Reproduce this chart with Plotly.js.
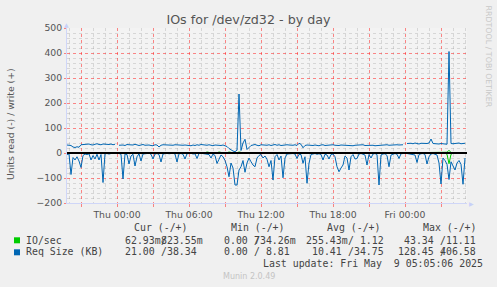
<!DOCTYPE html>
<html><head><meta charset="utf-8">
<script src="https://cdn.plot.ly/plotly-3.0.1.min.js"></script>
<style>html,body{margin:0;padding:0;background:#f0f0f0}#chart{width:497px;height:287px}</style>
</head><body><div id="chart"></div>
<script>
// ---- data ----
const startTime = Date.UTC(2025, 4, 7, 19, 50); // first sample, Wed 19:50
const stepMinutes = 10;

// Req Size (KB), write (+)
const reqWriteKB = [
 32,31,30,24,22,25,23,33,34,33,
 35,36,33,32,35,37,34,33,36,35,
 32,34,36,33,35,null,31,33,32,30,
 34,33,31,32,35,33,30,32,34,31,
 33,32,30,29,33,32,24,31,33,32,
 34,33,32,31,33,32,34,33,31,32,
 30,31,29,32,30,33,31,34,32,30,
 31,33,30,29,32,31,28,30,32,28,
 26,18,12,8,5,12,236,10,40,55,
 14,22,30,32,34,31,29,33,32,30,
 31,33,30,32,34,31,33,30,32,31,
 33,32,30,31,33,30,39,35,21,30,
 32,31,33,30,32,31,29,32,33,30,
 31,32,30,33,31,29,30,32,31,30,
 32,31,30,29,31,32,30,31,33,30,
 31,30,32,31,29,30,31,32,30,31,
 33,31,32,30,31,33,32,34,33,null,
 38,40,39,37,40,38,36,39,38,37,
 38,40,56,38,37,39,36,38,37,39,
 35,406,38,37,39,38,40,37,38,39
];
// Req Size (KB), read (-)
const reqReadKB = [
 6,4,86,18,28,15,32,58,10,4,
 6,3,28,10,24,5,28,6,118,3,
 2,4,2,1,2,null,2,5,104,4,
 6,44,12,5,52,15,3,32,4,2,
 3,1,5,24,4,2,6,36,4,2,
 1,3,2,1,4,36,3,2,5,24,
 3,2,1,4,3,22,2,1,3,2,
 4,6,20,4,10,42,25,8,15,30,
 55,95,40,60,128,128,68,55,30,77,
 40,20,35,48,55,20,10,6,20,12,
 25,55,30,108,15,6,28,12,99,20,
 4,3,5,2,4,22,5,6,41,15,
 121,41,6,4,2,5,3,6,28,5,
 8,24,6,4,15,55,75,60,48,12,
 20,68,15,6,24,22,4,2,5,8,
 48,6,20,4,2,6,128,8,4,3,
 10,55,8,4,2,5,22,3,2,null,
 2,4,3,5,8,38,6,3,2,6,
 44,15,4,2,5,8,40,124,20,30,
 45,106,35,50,68,40,30,45,125,20
];
// IO/sec, write (+)
const ioWrite = [
 .8,.8,.8,.8,.8,.8,.8,.8,.8,.8,
 .8,.8,.8,.8,.8,.8,.8,.8,.8,.8,
 .8,.8,.8,.8,.8,null,.8,.8,.8,.8,
 .8,.8,.8,.8,.8,.8,.8,.8,.8,.8,
 .8,.8,.8,.8,.8,.8,.8,.8,.8,.8,
 .8,.8,.8,.8,.8,.8,.8,.8,.8,.8,
 .8,.8,.8,.8,.8,.8,.8,.8,.8,.8,
 4,.8,.8,.8,.8,.8,4,.8,.8,.8,
 .8,4,.8,.8,.8,.8,4,.8,.8,.8,
 .8,.8,.8,.8,.8,.8,.8,.8,.8,.8,
 .8,.8,.8,.8,.8,.8,.8,.8,.8,.8,
 .8,.8,.8,.8,.8,.8,.8,.8,.8,.8,
 .8,.8,.8,.8,.8,.8,.8,.8,.8,.8,
 .8,.8,.8,.8,.8,.8,.8,.8,.8,.8,
 .8,.8,.8,.8,.8,.8,.8,.8,.8,.8,
 .8,.8,.8,.8,.8,.8,.8,.8,.8,.8,
 .8,.8,.8,.8,.8,.8,.8,.8,.8,null,
 .8,.8,.8,.8,.8,.8,.8,.8,.8,.8,
 .8,.8,.8,.8,.8,.8,.8,.8,.8,.8,
 3,11,2,.8,.8,.8,.8,.8,.8,.8
];
// IO/sec, read (-)
const ioRead = [
 .2,.2,.2,.2,.2,.2,.2,.2,.2,.2,
 .2,.2,.2,.2,.2,.2,.2,.2,.2,.2,
 .2,.2,.2,.2,.2,null,.2,.2,.2,.2,
 .2,.2,.2,.2,.2,.2,.2,.2,.2,.2,
 .2,.2,.2,.2,.2,.2,.2,.2,.2,.2,
 .2,.2,.2,.2,.2,.2,.2,.2,.2,.2,
 .2,.2,.2,.2,.2,.2,.2,.2,.2,.2,
 .2,.2,.2,.2,.2,.2,.2,.2,.2,.2,
 .2,.2,.2,.2,.2,.2,.2,.2,.2,.2,
 .2,.2,.2,.2,.2,.2,.2,.2,.2,.2,
 .2,.2,.2,.2,.2,.2,.2,.2,.2,.2,
 .2,.2,.2,.2,.2,.2,.2,.2,.2,.2,
 .2,.2,.2,.2,.2,.2,.2,.2,.2,.2,
 .2,.2,.2,.2,.2,.2,.2,.2,.2,.2,
 .2,.2,.2,.2,.2,.2,.2,.2,.2,.2,
 .2,.2,.2,.2,.2,.2,.2,.2,.2,.2,
 .2,.2,.2,.2,.2,.2,.2,.2,.2,null,
 .2,.2,.2,.2,.2,.2,.2,.2,.2,.2,
 .2,.2,.2,.2,.2,.2,.2,.2,.2,.2,
 5,43,5,.2,.2,.2,.2,.2,.2,.2
];

const seriesNames = ['IO/sec', 'Req Size (KB)'];
const seriesColors = ['#00cc00', '#0066b3'];
const statHeaders = ['Cur (-/+)', 'Min (-/+)', 'Avg (-/+)', 'Max (-/+)'];
const ioStatRead   = ['62.93m', '0.00 ', '255.43m', '43.34 '];
const ioStatWrite  = ['823.55m', '734.26m', '  1.12', ' 11.11'];
const reqStatRead  = ['21.00 ', '0.00 ', '10.41 ', '128.45 '];
const reqStatWrite = [' 38.34', '  8.81', ' 34.75', '406.58'];
const lastUpdate = 'Last update: Fri May  9 05:05:06 2025';

// ---- helpers ----
function fmt(ms){
  const d = new Date(ms), p = n => String(n).padStart(2,'0');
  return d.getUTCFullYear()+'-'+p(d.getUTCMonth()+1)+'-'+p(d.getUTCDate())+' '+p(d.getUTCHours())+':'+p(d.getUTCMinutes())+':00';
}
const times = reqWriteKB.map((_, i) => fmt(startTime + i*stepMinutes*60000));
const neg = a => a.map(v => v == null ? null : -v);
const endTime = startTime + 200*stepMinutes*60000;

// hourly minor grid positions that are not on the 3-hour major grid
const HOUR = 3600000;
const minorHours = [];
for (let t = Date.UTC(2025, 4, 7, 20); t < endTime; t += HOUR) {
  if (new Date(t).getUTCHours() % 3 !== 0) minorHours.push(fmt(t));
}

const L = 67, T = 28, PW = 400, PH = 175;
const px = x => (x - L) / PW;
const py = y => (T + PH - y) / PH;
const nb = s => s.replace(/ /g, '\u00a0');
const MONO = {family: 'DejaVu Sans Mono', size: 9.9, color: '#444'};
function txt(x, y, text, o) {
  return Object.assign({xref:'paper', yref:'paper', x:px(x), y:py(y), text:nb(text),
    showarrow:false, borderpad:0, borderwidth:0, xanchor:'left', yanchor:'middle', font:MONO}, o || {});
}

const line = (y, c) => ({x: times, y, type:'scatter', mode:'lines', line:{color:c, width:1}, connectgaps:false, hoverinfo:'skip'});
const traces = [
  line(ioWrite, seriesColors[0]),
  line(neg(ioRead), seriesColors[0]),
  line(reqWriteKB, seriesColors[1]),
  line(neg(reqReadKB), seriesColors[1])
];

const slashX = [160.8, 253.9, 347.5, 440.0];
const headerX = [134.3, 230.7, 326.7, 422.7];
const rowY = [240, 251.8];
const ann = [];
statHeaders.forEach((h, k) => ann.push(txt(headerX[k], 227, h)));
seriesNames.forEach((n, r) => ann.push(txt(26, rowY[r], n)));
[[ioStatRead, ioStatWrite], [reqStatRead, reqStatWrite]].forEach(([rd, wr], r) => {
  for (let k = 0; k < 4; k++) {
    ann.push(txt(slashX[k], rowY[r], rd[k], {xanchor:'right'}));
    ann.push(txt(slashX[k], rowY[r], '/'));
    ann.push(txt(slashX[k], rowY[r], wr[k]));
  }
});
ann.push(txt(482.5, 263.3, lastUpdate, {xanchor:'right'}));
ann.push(txt(248.5, 276, 'Munin 2.0.49', {xanchor:'center', font:{family:'DejaVu Sans', size:8, color:'#c4c4c4'}}));
ann.push(txt(10, 124, 'Units read (-) / write (+)', {xanchor:'center', textangle:-90, font:{family:'DejaVu Sans', size:9.3, color:'#555'}}));
ann.push(txt(488.5, 56, 'RRDTOOL / TOBI OETIKER', {xanchor:'center', textangle:90, font:{family:'DejaVu Sans', size:7.9, color:'#c8c8c8'}}));
ann.push(txt(66.5, 24.5, '▲', {xanchor:'center', font:{family:'DejaVu Sans', size:6, color:'#c8d0f8'}}));
ann.push(txt(471.5, 203, '▶', {xanchor:'center', font:{family:'DejaVu Sans', size:6, color:'#c8d0f8'}}));

const shapes = [
  {type:'line', xref:'paper', yref:'y', x0:0, x1:1, y0:0, y1:0, line:{color:'#000', width:2}, layer:'above'},
  {type:'rect', xref:'paper', yref:'paper', x0:px(14), x1:px(20), y0:py(243.3), y1:py(237.3), fillcolor:seriesColors[0], line:{width:0}},
  {type:'rect', xref:'paper', yref:'paper', x0:px(14), x1:px(20), y0:py(255.3), y1:py(249.3), fillcolor:seriesColors[1], line:{width:0}}
];

const MAJ = 'rgba(255,40,40,0.55)', MIN = 'rgba(140,140,140,0.28)', AX = '#cfd6f8';
const layout = {
  width: 497, height: 287,
  margin: {l: L, r: 497 - L - PW, t: T, b: 287 - T - PH, pad: 0},
  paper_bgcolor: '#f0f0f0', plot_bgcolor: '#f3f3f3',
  showlegend: false,
  title: {text: 'IOs for /dev/zd32 - by day', x: 0.5, xref: 'container', xanchor: 'center',
          y: 1 - 19.8/287, yref: 'container', yanchor: 'middle',
          font: {family: 'DejaVu Sans', size: 12.7, color: '#555'}},
  xaxis: {type: 'date', range: [fmt(startTime), fmt(endTime)],
    tickmode: 'linear', tick0: '2025-05-08 00:00', dtick: 3*HOUR, ticklabelstep: 2, tickformat: '%a %H:%M',
    showgrid: true, gridcolor: MAJ, griddash: 'dot', gridwidth: 1,
    minor: {tickmode: 'array', tickvals: minorHours, showgrid: true, gridcolor: MIN, griddash: 'dot', gridwidth: 1},
    ticks: 'outside', ticklen: 3, tickcolor: MAJ, tickwidth: 1,
    showline: true, linecolor: AX, linewidth: 1, zeroline: false,
    tickfont: {family: 'DejaVu Sans', size: 9.3, color: '#555'}, fixedrange: true},
  yaxis: {range: [-200, 500], tickmode: 'linear', tick0: 0, dtick: 100,
    showgrid: true, gridcolor: MAJ, griddash: 'dot', gridwidth: 1,
    minor: {tickmode: 'linear', tick0: 0, dtick: 20, showgrid: true, gridcolor: MIN, griddash: 'dot', gridwidth: 1},
    ticks: 'outside', ticklen: 2, tickcolor: MAJ, tickwidth: 1,
    showline: true, linecolor: AX, linewidth: 1, zeroline: false,
    tickfont: {family: 'DejaVu Sans', size: 9.3, color: '#555'}, fixedrange: true},
  annotations: ann,
  shapes: shapes
};
Plotly.newPlot('chart', traces, layout, {staticPlot: true, displayModeBar: false});
</script></body></html>
